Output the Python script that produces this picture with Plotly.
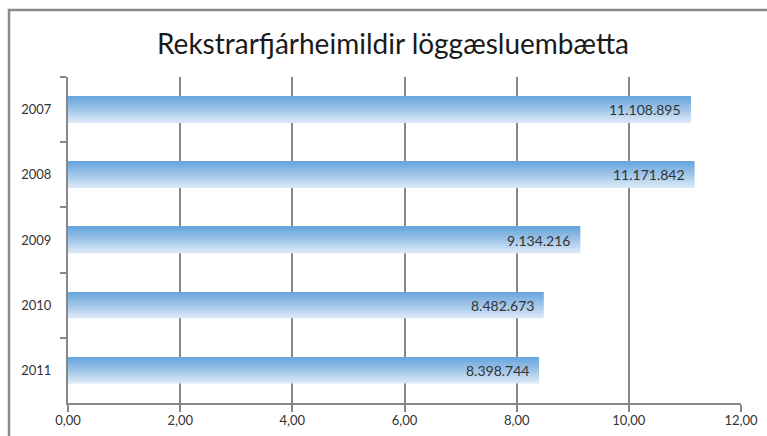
import plotly.graph_objects as go

years = ["2007", "2008", "2009", "2010", "2011"]
values = [11108895, 11171842, 9134216, 8482673, 8398744]
x_ticks = [0, 2, 4, 6, 8, 10, 12]
title_text = "Rekstrarfjárheimildir löggæsluembætta"

x_vals = [v / 1e6 for v in values]
labels = [f"{v:,}".replace(",", ".") for v in values]


def lerp(c1, c2, t):
    return tuple(round(a + (b - a) * t) for a, b in zip(c1, c2))


top_c = (104, 166, 220)
mid_c = (158, 196, 232)
bot_c = (216, 231, 246)

fig = go.Figure()
N = 16
bw = 0.4
lw = bw / N
for k in range(N):
    t = k / (N - 1)
    if t < 0.5:
        c = lerp(top_c, mid_c, t / 0.5)
    else:
        c = lerp(mid_c, bot_c, (t - 0.5) / 0.5)
    fig.add_trace(go.Bar(
        x=x_vals, y=years, orientation="h",
        width=lw * 1.08, offset=-bw / 2 + k * lw,
        marker=dict(color="rgb(%d,%d,%d)" % c, line=dict(width=0)),
        showlegend=False, hoverinfo="skip",
    ))

for i, (xv, lab) in enumerate(zip(x_vals, labels)):
    fig.add_annotation(x=xv, y=i, text=lab, showarrow=False,
                       xanchor="right", xshift=-8,
                       font=dict(family="Lato", size=14, color="#333333"))

fig.add_shape(type="rect", xref="paper", yref="paper",
              x0=(9 - 68) / 673, x1=1.3, y0=-0.5, y1=(403 - 10) / 326,
              line=dict(color="#8a8a8a", width=2.5), layer="below")

fig.update_layout(
    width=767, height=436,
    margin=dict(l=68, r=26, t=77, b=33, autoexpand=False),
    paper_bgcolor="white", plot_bgcolor="white",
    barmode="overlay",
    separators=",.",
    title=dict(text=title_text, x=393 / 767, xanchor="center",
               y=1 - 44 / 436, yanchor="middle", yref="container",
               font=dict(family="Lato", size=28, color="#1a1a1a")),
    xaxis=dict(range=[0, 12], tickvals=x_ticks, tickformat=".2f",
               showgrid=True, gridcolor="#878787", gridwidth=2,
               showline=True, linecolor="#878787", linewidth=2,
               ticks="outside", ticklen=7, tickcolor="#878787", tickwidth=2,
               zeroline=False, automargin=False, ticklabelstandoff=-3,
               tickfont=dict(family="Lato", size=13, color="#333333")),
    yaxis=dict(type="category", range=[4.5, -0.5],
               showline=True, linecolor="#878787", linewidth=2,
               ticks="outside", ticklen=6, tickcolor="#878787", tickwidth=2,
               tickson="boundaries", showgrid=False, automargin=False,
               ticklabelstandoff=12,
               tickfont=dict(family="Lato", size=13, color="#333333")),
)

fig.write_html("out.html", config={"displayModeBar": False},
               post_script="document.body.style.margin='0';document.body.style.overflow='hidden';")
